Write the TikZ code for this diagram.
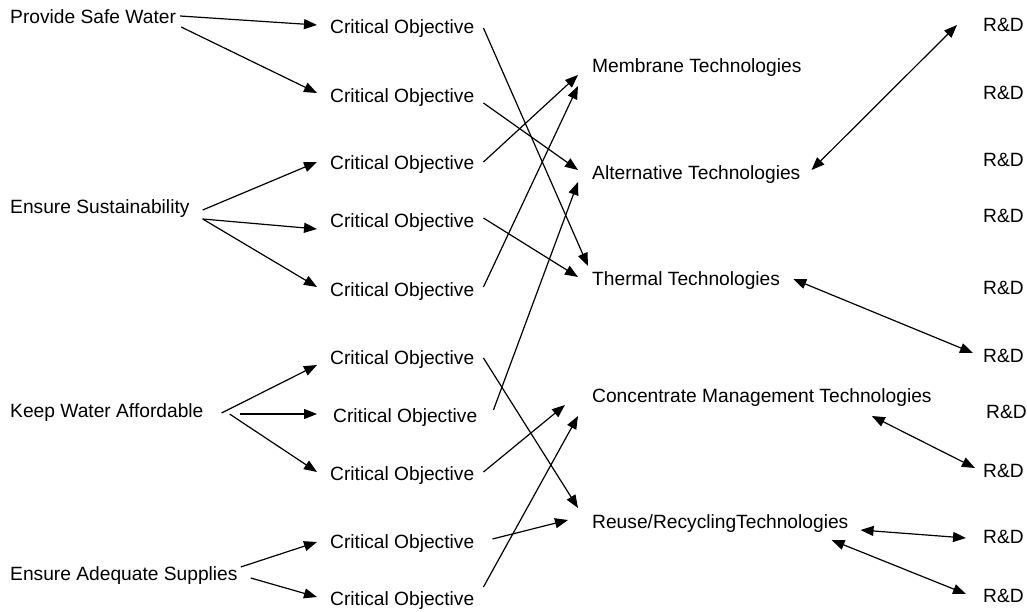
\documentclass[tikz,border=0pt]{standalone}
\usepackage{fontspec}
\setmainfont{Liberation Sans}
\usetikzlibrary{arrows.meta}
\tikzstyle{GOAL} = [anchor=base west, inner sep=0pt, font=\fontsize{19.2}{23}\selectfont]
\tikzstyle{OBJECTIVE} = [anchor=base west, inner sep=0pt, font=\fontsize{19.2}{23}\selectfont]
\tikzstyle{TECH} = [anchor=base west, inner sep=0pt, font=\fontsize{19.2}{23}\selectfont]
\tikzstyle{RND} = [anchor=base west, inner sep=0pt, font=\fontsize{19.2}{23}\selectfont]
\tikzstyle{ARROW} = [draw, line width=1.2pt, -{Triangle[length=13pt,width=10pt]}]
\tikzstyle{BIARROW} = [draw, line width=1.2pt, {Triangle[length=13pt,width=10pt]}-{Triangle[length=13pt,width=10pt]}]
\begin{document}
\begin{tikzpicture}[x=1pt, y=-1pt]
\useasboundingbox (0,0) rectangle (1027,612);
% Goals
\node [GOAL] (SAFE) at (10,24) {Provide Safe Water};
\node [GOAL] (SUSTAIN) at (10,214) {Ensure Sustainability};
\node [GOAL] (AFFORD) at (10,417) {Keep Water Affordable};
\node [GOAL] (SUPPLY) at (10,580) {Ensure Adequate Supplies};
% Critical objectives
\node [OBJECTIVE] (CO_1) at (330,34) {Critical Objective};
\node [OBJECTIVE] (CO_2) at (330,103) {Critical Objective};
\node [OBJECTIVE] (CO_3) at (330,170) {Critical Objective};
\node [OBJECTIVE] (CO_4) at (330,228) {Critical Objective};
\node [OBJECTIVE] (CO_5) at (330,296) {Critical Objective};
\node [OBJECTIVE] (CO_6) at (330,364) {Critical Objective};
\node [OBJECTIVE] (CO_7) at (333,422) {Critical Objective};
\node [OBJECTIVE] (CO_8) at (330,480) {Critical Objective};
\node [OBJECTIVE] (CO_9) at (330,548) {Critical Objective};
\node [OBJECTIVE] (CO_10) at (330,605) {Critical Objective};
% Technologies
\node [TECH] (MEMBRANE) at (592,73) {Membrane Technologies};
\node [TECH] (ALTERNATIVE) at (592,180) {Alternative Technologies};
\node [TECH] (THERMAL) at (592,285) {Thermal Technologies};
\node [TECH] (CONCENTRATE) at (592,402) {Concentrate Management Technologies};
\node [TECH] (REUSE) at (592,528) {Reuse/RecyclingTechnologies};
% R&D
\node [RND] (RD_1) at (983,32) {R\&D};
\node [RND] (RD_2) at (983,100) {R\&D};
\node [RND] (RD_3) at (983,167) {R\&D};
\node [RND] (RD_4) at (983,223) {R\&D};
\node [RND] (RD_5) at (983,294) {R\&D};
\node [RND] (RD_6) at (983,362) {R\&D};
\node [RND] (RD_7) at (986,418) {R\&D};
\node [RND] (RD_8) at (983,477) {R\&D};
\node [RND] (RD_9) at (983,543) {R\&D};
\node [RND] (RD_10) at (983,602) {R\&D};
% Goals to objectives
\path [ARROW] ([shift={(4,-8)}]SAFE.base east) -- ([shift={(-13,-9)}]CO_1.base west);
\path [ARROW] ([shift={(5,3)}]SAFE.base east) -- ([shift={(-13,-10)}]CO_2.base west);
\path [ARROW] ([shift={(13,-4)}]SUSTAIN.base east) -- ([shift={(-13,-8)}]CO_3.base west);
\path [ARROW] ([shift={(13,5)}]SUSTAIN.base east) -- ([shift={(-13,1)}]CO_4.base west);
\path [ARROW] ([shift={(13,5)}]SUSTAIN.base east) -- ([shift={(-13,-9)}]CO_5.base west);
\path [ARROW] ([shift={(18,-4)}]AFFORD.base east) -- ([shift={(-13,1)}]CO_6.base west);
\path [ARROW] ([shift={(36,-3)}]AFFORD.base east) -- ([shift={(-16,-8)}]CO_7.base west);
\path [ARROW] ([shift={(26,-3)}]AFFORD.base east) -- ([shift={(-13,-8)}]CO_8.base west);
\path [ARROW] ([shift={(3,-13)}]SUPPLY.base east) -- ([shift={(-13,-6)}]CO_9.base west);
\path [ARROW] ([shift={(13,-2)}]SUPPLY.base east) -- ([shift={(-13,-8)}]CO_10.base west);
% Objectives to technologies
\path [ARROW] ([shift={(9,-6)}]CO_1.base east) -- ([shift={(-4,-19)}]THERMAL.base west);
\path [ARROW] ([shift={(9,0)}]CO_2.base east) -- ([shift={(-14,-10)}]ALTERNATIVE.base west);
\path [ARROW] ([shift={(9,-8)}]CO_3.base east) -- ([shift={(-14,2)}]MEMBRANE.base west);
\path [ARROW] ([shift={(9,-10)}]CO_4.base east) -- ([shift={(-14,-8)}]THERMAL.base west);
\path [ARROW] ([shift={(9,-9)}]CO_5.base east) -- ([shift={(-14,13)}]MEMBRANE.base west);
\path [ARROW] ([shift={(9,-6)}]CO_6.base east) -- ([shift={(-14,-20)}]REUSE.base west);
\path [ARROW] ([shift={(16,-12)}]CO_7.base east) -- ([shift={(-14,2)}]ALTERNATIVE.base west);
\path [ARROW] ([shift={(9,-8)}]CO_8.base east) -- ([shift={(-27,3)}]CONCENTRATE.base west);
\path [ARROW] ([shift={(18,-9)}]CO_9.base east) -- ([shift={(-24,-8)}]REUSE.base west);
\path [ARROW] ([shift={(9,-18)}]CO_10.base east) -- ([shift={(-14,14)}]CONCENTRATE.base west);
% Technologies and R&D
\path [BIARROW] ([shift={(11,-10)}]ALTERNATIVE.base east) -- ([shift={(-26,-7)}]RD_1.base west);
\path [BIARROW] ([shift={(13,-6)}]THERMAL.base east) -- ([shift={(-10,-9)}]RD_6.base west);
\path [BIARROW] ([shift={(-60,14)}]CONCENTRATE.base east) -- ([shift={(-8,-9)}]RD_8.base west);
\path [BIARROW] ([shift={(12,2)}]REUSE.base east) -- ([shift={(-17,-5)}]RD_9.base west);
\path [BIARROW] ([shift={(-17,12)}]REUSE.base east) -- ([shift={(-17,-8)}]RD_10.base west);
\end{tikzpicture}
\end{document}
